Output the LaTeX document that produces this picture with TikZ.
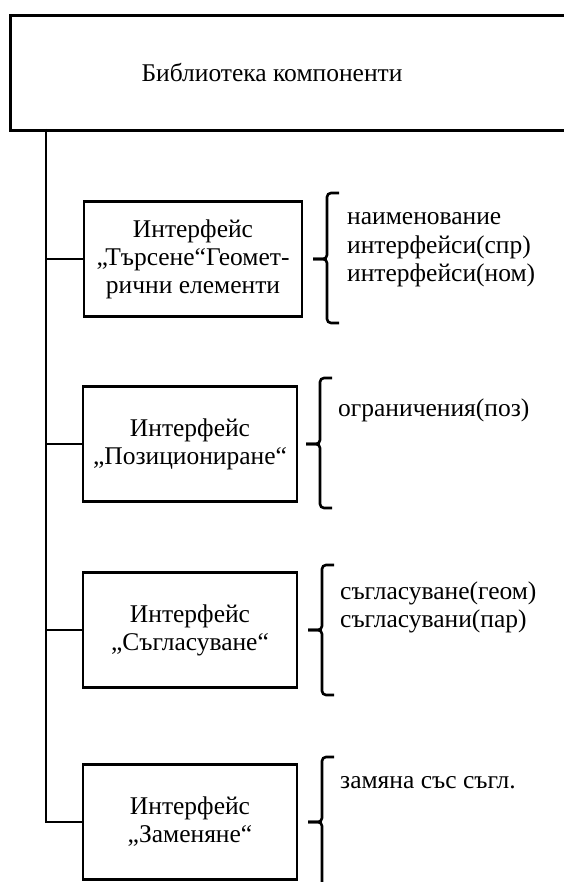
\documentclass[tikz,border=0pt]{standalone}
\usepackage{fontspec}
\setmainfont{Liberation Serif}
\usetikzlibrary{positioning,calc}
\definecolor{ink}{HTML}{000000}
\newcommand{\attrbrace}[3]{%
  \draw[brace] ($(#1)+(12,0)$) -- (#1) -- (#1 |- #3.east) -- ++(-14,0);
  \draw[brace] ($(#2)+(12,0)$) -- (#2) -- (#2 |- #3.east) -- ++(-14,0);
}

\begin{document}
\begin{tikzpicture}[
    x=1pt, y=-1pt,
    every node/.style={font=\fontsize{25.5}{28}\selectfont, text=ink},
    libbox/.style={
        rectangle, draw=ink, line width=2.8pt,
        minimum width=620pt, minimum height=115pt, inner sep=0pt,
    },
    ifbox/.style={
        rectangle, draw=ink, line width=2.6pt, align=center,
        minimum width=214pt, minimum height=115pt, inner sep=1pt,
    },
    attr/.style={align=left, inner sep=0pt, anchor=base west},
    link/.style={draw=ink, line width=2.6pt},
    brace/.style={draw=ink, line width=2.6pt, rounded corners=4pt},
]
\useasboundingbox (0,0) rectangle (563,882);

% --- Component library ---
\node[libbox, anchor=north west] (lib) at (9,14) {};
\node[anchor=base] (libtxt) at (272,82) {Библиотека компоненти};
\coordinate (trunk) at (46,129);

% --- Interfaces ---
\node[ifbox, minimum width=218pt] (search) at (193,259)
    {Интерфейс\\„Търсене“Геомет-\\рични елементи};
\node[ifbox] (position) at (190,444) {Интерфейс\\„Позициониране“};
\node[ifbox] (match) at (190,630) {Интерфейс\\„Съгласуване“};
\node[ifbox] (replace) at (190,822) {Интерфейс\\„Заменяне“};

% --- Trunk and branches ---
\draw[link] (trunk) |- (replace.west);
\draw[link] (trunk |- search.west) -- (search.west);
\draw[link] (trunk |- position.west) -- (position.west);
\draw[link] (trunk |- match.west) -- (match.west);

% --- Braces ---
\coordinate (b1t) at (327,193); \coordinate (b1b) at (327,323);
\coordinate (b2t) at (320,378); \coordinate (b2b) at (320,508);
\coordinate (b3t) at (322,565); \coordinate (b3b) at (322,695);
\coordinate (b4t) at (322,757); \coordinate (b4b) at (322,900);
\attrbrace{b1t}{b1b}{search}
\attrbrace{b2t}{b2b}{position}
\attrbrace{b3t}{b3b}{match}
\attrbrace{b4t}{b4b}{replace}

% --- Attributes (anchored at the last line) ---
\node[attr] (t1) at (347,281) {наименование\\интерфейси(спр)\\интерфейси(ном)};
\node[attr] (t2) at (338,416) {ограничения(поз)};
\node[attr] (t3) at (340,627) {съгласуване(геом)\\съгласувани(пар)};
\node[attr] (t4) at (340,788) {замяна със съгл.};

\end{tikzpicture}
\end{document}
